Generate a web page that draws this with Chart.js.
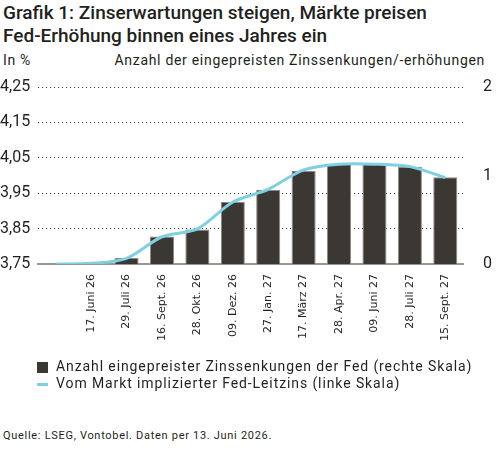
<!DOCTYPE html>
<html>
<head>
<meta charset="utf-8">
<script src="https://cdn.jsdelivr.net/npm/chart.js@4"></script>
<style>
  body { margin: 0; width: 500px; height: 468px; background: #fff; font-family: Roboto, sans-serif; color: #231f20; position: relative; overflow: hidden; }
  .title { position: absolute; left: 3px; top: 1px; font-size: 19px; font-weight: 500; line-height: 23px; }
  .unit { position: absolute; top: 52px; font-size: 14px; letter-spacing: 0.7px; }
  #wrap { position: absolute; left: 0; top: 0; width: 500px; height: 370px; }
  .legend { position: absolute; left: 37px; top: 358px; font-size: 14px; line-height: 17px; letter-spacing: 0.9px; }
  .legend div { position: relative; padding-left: 19px; }
  .sw { position: absolute; left: 0; }
  .footer { position: absolute; left: 3px; top: 429px; font-size: 11px; letter-spacing: 0.7px; }
</style>
</head>
<body>
<div class="title">Grafik 1: Zinserwartungen steigen, Märkte preisen<br>Fed-Erhöhung binnen eines Jahres ein</div>
<div class="unit" style="left:3px">In %</div>
<div class="unit" style="right:15px">Anzahl der eingepreisten Zinssenkungen/-erhöhungen</div>
<div id="wrap"><canvas id="chart"></canvas></div>
<div class="legend">
  <div><span class="sw" style="top:4px;width:11px;height:11px;background:#3b3834"></span>Anzahl eingepreister Zinssenkungen der Fed (rechte Skala)</div>
  <div><span class="sw" style="top:8px;width:11px;height:3px;background:#7fd0e2"></span>Vom Markt implizierter Fed-Leitzins (linke Skala)</div>
</div>
<div class="footer">Quelle: LSEG, Vontobel. Daten per 13. Juni 2026.</div>
<script>
var labels = ['', '17. Juni 26', '29. Juli 26', '16. Sept. 26', '28. Okt. 26', '09. Dez. 26', '27. Jan. 27', '17. März 27', '28. Apr. 27', '09. Juni 27', '28. Juli 27', '15. Sept. 27'];
var cuts = [0, 0, 0.07, 0.31, 0.39, 0.70, 0.84, 1.05, 1.13, 1.13, 1.10, 0.98];
var rate = [3.75, 3.752, 3.766, 3.827, 3.849, 3.925, 3.961, 4.016, 4.032, 4.032, 4.025, 3.994];
var leftTicks = [3.75, 3.85, 3.95, 4.05, 4.15, 4.25];
var rightTicks = [0, 1, 2];

var ctx = document.getElementById('chart').getContext('2d');
var chart = new Chart(ctx, {
    data: {
        labels: labels,
        datasets: [{
            type: 'line',
            label: 'Vom Markt implizierter Fed-Leitzins (linke Skala)',
            data: rate,
            yAxisID: 'y',
            borderColor: '#7fd0e2',
            borderWidth: 3,
            pointRadius: 0,
            tension: 0.3,
            order: 0
        }, {
            type: 'bar',
            label: 'Anzahl eingepreister Zinssenkungen der Fed (rechte Skala)',
            data: cuts,
            yAxisID: 'y2',
            backgroundColor: '#3b3834',
            borderColor: '#8c8985',
            borderWidth: 1,
            categoryPercentage: 1,
            barPercentage: 0.68,
            order: 1
        }]
    },
    options: {
        responsive: true,
        maintainAspectRatio: false,
        animation: false,
        layout: { padding: { top: 87, left: 0, right: 0, bottom: 16 } },
        plugins: { legend: { display: false }, tooltip: { enabled: false } },
        scales: {
            x: {
                grid: { display: false, drawTicks: false },
                border: { color: '#9b9894', width: 2 },
                ticks: {
                    minRotation: 90, maxRotation: 90, autoSkip: false,
                    padding: 10, color: '#231f20',
                    font: { family: 'DejaVu Sans', size: 11 }
                },
                afterFit: function (s) { s.height = 90; }
            },
            y: {
                position: 'left',
                min: 3.75, max: 4.25,
                afterBuildTicks: function (s) { s.ticks = leftTicks.map(function (v) { return { value: v }; }); },
                grid: { color: '#333', lineWidth: 1, drawTicks: false },
                border: { display: false, dash: [1, 3] },
                ticks: {
                    padding: 4, color: '#231f20', crossAlign: 'far',
                    font: { family: 'Roboto', size: 16 },
                    callback: function (v) { return v.toFixed(2).replace('.', ','); }
                },
                afterFit: function (s) { s.width = 38; }
            },
            y2: {
                position: 'right',
                min: 0, max: 2,
                afterBuildTicks: function (s) { s.ticks = rightTicks.map(function (v) { return { value: v }; }); },
                grid: { display: false },
                border: { display: false },
                ticks: {
                    padding: 12, color: '#231f20',
                    font: { family: 'Roboto', size: 16 }
                },
                afterFit: function (s) { s.width = 37; }
            }
        }
    }
});
</script>
</body>
</html>
